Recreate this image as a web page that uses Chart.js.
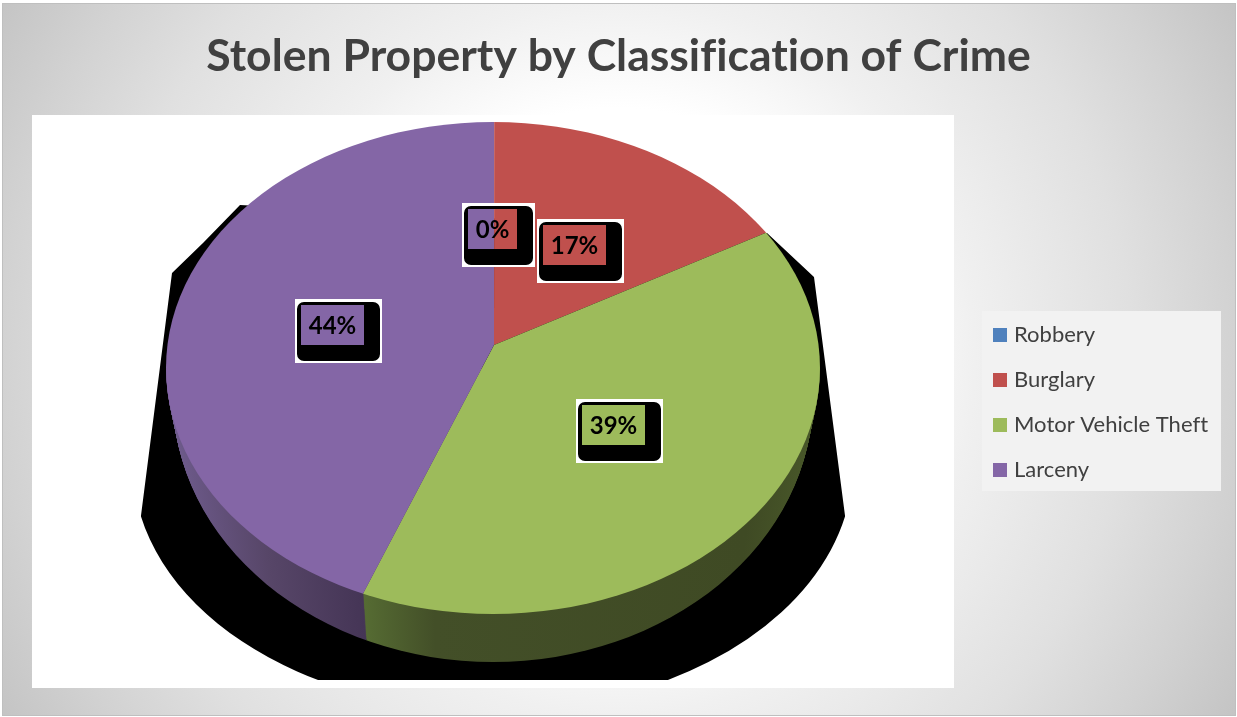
<!DOCTYPE html>
<html>
<head>
<meta charset="utf-8">
<title>Stolen Property by Classification of Crime</title>
<script src="https://cdn.jsdelivr.net/npm/chart.js@4"></script>
<style>
html, body { margin: 0; padding: 0; background: #fff; }
canvas { display: block; }
</style>
</head>
<body>
<canvas id="myChart" width="1237" height="717"></canvas>
<script>
var categories = ['Robbery', 'Burglary', 'Motor Vehicle Theft', 'Larceny'];
var crimeValues = [0.01, 17, 39, 44];
var sliceColors = ['#4F81BD', '#C0504D', '#9DBB5B', '#8466A6'];

var titleText = 'Stolen Property by Classification of Crime';
var fontName = 'Lato, "Open Sans", sans-serif';

// the pie is tilted: apex sits above the middle of the top ellipse
var pieX = 494, pieY = 345, pieR = 360, tilt = 0.752;
var faceX = 493;
var topFace = { cy: 368, rx: 327, ry: 246 };
var rimDepth = 47;
var bottomFace = { cy: 397, rx: 320, ry: 265 };

function paintBackground(ctx, w, h) {
    ctx.save();
    ctx.fillStyle = '#fff';
    ctx.fillRect(0, 0, w, h);
    var bg = ctx.createRadialGradient(618, 358, 0, 618, 358, 714);
    bg.addColorStop(0, '#ffffff');
    bg.addColorStop(0.35, '#ffffff');
    bg.addColorStop(0.5, '#f0f0f0');
    bg.addColorStop(0.72, '#e0e0e0');
    bg.addColorStop(0.865, '#d2d2d2');
    bg.addColorStop(1, '#c4c4c4');
    ctx.fillStyle = bg;
    ctx.fillRect(2, 3, w - 3, h - 4);
    ctx.strokeStyle = '#bfbfbf';
    ctx.lineWidth = 1;
    ctx.strokeRect(2.5, 3.5, w - 4, h - 5);
    // plot and legend panels
    ctx.fillStyle = '#fff';
    ctx.fillRect(32, 115, 922, 573);
    ctx.fillStyle = '#f2f2f2';
    ctx.fillRect(982, 311, 239, 180);
    ctx.restore();
}

function paintShadow(ctx) {
    ctx.save();
    ctx.beginPath();
    ctx.rect(32, 115, 922, 565);
    ctx.clip();
    ctx.fillStyle = '#000';
    ctx.beginPath();
    ctx.moveTo(240, 205);
    ctx.lineTo(203, 243);
    ctx.lineTo(172, 273);
    ctx.ellipse(493, 465, 360, 246, 0, Math.PI - 0.21, 0.21, true);
    ctx.lineTo(814, 277);
    ctx.lineTo(767, 233);
    ctx.closePath();
    ctx.fill();
    ctx.restore();
}

function drawSlices(ctx, arcs, fills) {
    arcs.forEach(function (arc, i) {
        var saved = arc.options;
        if (fills) arc.options = Object.assign({}, saved, { backgroundColor: fills[i] });
        arc.draw(ctx);
        arc.options = saved;
    });
}

function paintRim(ctx, arcs) {
    var purple = ctx.createLinearGradient(170, 0, 362, 0);
    purple.addColorStop(0, '#6e5b8c');
    purple.addColorStop(0.5, '#574668');
    purple.addColorStop(1, '#453556');
    var green = ctx.createLinearGradient(362, 0, 815, 0);
    green.addColorStop(0, '#566c33');
    green.addColorStop(0.16, '#434f28');
    green.addColorStop(0.85, '#3f4a24');
    green.addColorStop(1, '#485729');
    var fills = ['#2f4d70', '#733030', green, purple];
    for (var d = rimDepth; d > 0; d--) {
        var t = d / rimDepth;
        var cy = topFace.cy + (bottomFace.cy - topFace.cy) * t;
        var rx = topFace.rx + (bottomFace.rx - topFace.rx) * t;
        var ry = topFace.ry + (bottomFace.ry - topFace.ry) * t;
        ctx.save();
        ctx.beginPath();
        ctx.ellipse(faceX, cy, rx, ry, 0, 0, Math.PI);
        ctx.closePath();
        ctx.clip();
        ctx.translate(pieX, pieY + d);
        ctx.scale(rx / topFace.rx, tilt);
        ctx.translate(-pieX, -pieY);
        drawSlices(ctx, arcs, fills);
        ctx.restore();
    }
}

function paintTop(ctx, arcs) {
    ctx.save();
    ctx.beginPath();
    ctx.ellipse(faceX, topFace.cy, topFace.rx, topFace.ry, 0, 0, Math.PI * 2);
    ctx.clip();
    ctx.translate(pieX, pieY);
    ctx.scale(1, tilt);
    ctx.translate(-pieX, -pieY);
    drawSlices(ctx, arcs);
    ctx.restore();
}

function roundBox(ctx, x, y, w, h, r) {
    ctx.moveTo(x + r, y);
    ctx.arcTo(x + w, y, x + w, y + h, r);
    ctx.arcTo(x + w, y + h, x, y + h, r);
    ctx.arcTo(x, y + h, x, y, r);
    ctx.arcTo(x, y, x + w, y, r);
    ctx.closePath();
}

// white card with a black rounded plate, the hole lets the slice show through
function paintLabels(ctx, arcs) {
    var total = crimeValues.reduce(function (a, b) { return a + b; }, 0);
    ctx.save();
    ctx.font = 'bold 24px ' + fontName;
    ctx.textAlign = 'center';
    ctx.textBaseline = 'middle';
    arcs.forEach(function (arc, i) {
        var text = Math.round(crimeValues[i] / total * 100) + '%';
        var mid = (arc.startAngle + arc.endAngle) / 2;
        var r = arc.outerRadius * 0.45;
        var x = arc.x + Math.cos(mid) * r + 4;
        var y = arc.y + Math.sin(mid) * r * tilt * 0.97 + 8;
        var innerW = Math.round(ctx.measureText(text).width) + 15;
        var w = innerW + 24, h = 64;
        var left = Math.round(x - w / 2), top = Math.round(y - h / 2);
        ctx.fillStyle = '#fff';
        ctx.beginPath();
        ctx.rect(left, top, w, h);
        ctx.rect(left + 6, top + 6, innerW, 40);
        ctx.fill('evenodd');
        ctx.fillStyle = '#000';
        ctx.beginPath();
        roundBox(ctx, left + 2, top + 3, w - 4, h - 5, 7);
        ctx.rect(left + 6, top + 6, innerW, 40);
        ctx.fill('evenodd');
        ctx.fillText(text, left + 6 + innerW / 2, top + 27);
    });
    ctx.restore();
}

var stolenPiePlugin = {
    id: 'stolenPie',
    beforeDraw: function (chart) {
        // small spacing switches off the Lato ti ligature in the title
        chart.ctx.letterSpacing = '0.01px';
        paintBackground(chart.ctx, chart.width, chart.height);
    },
    afterLayout: function (chart) {
        // fix the pie and legend where the slide has them
        chart.chartArea = {
            left: pieX - pieR, right: pieX + pieR,
            top: pieY - pieR, bottom: pieY + pieR,
            width: pieR * 2, height: pieR * 2
        };
        var legend = chart.legend;
        var lh = legend.height;
        legend.left = 974;
        legend.right = legend.left + legend.width;
        legend.top = 301;
        legend.bottom = legend.top + lh;
    },
    beforeDatasetsDraw: function (chart) {
        var ctx = chart.ctx;
        var arcs = chart.getDatasetMeta(0).data;
        paintShadow(ctx);
        paintRim(ctx, arcs);
        paintTop(ctx, arcs);
        paintLabels(ctx, arcs);
        return false;
    }
};

var ctx = document.getElementById('myChart').getContext('2d');
var myChart = new Chart(ctx, {
    type: 'pie',
    data: {
        labels: categories,
        datasets: [{
            data: crimeValues,
            backgroundColor: sliceColors,
            borderWidth: 0
        }]
    },
    options: {
        responsive: false,
        animation: false,
        plugins: {
            tooltip: { enabled: false },
            title: {
                display: true,
                text: titleText,
                color: '#404040',
                font: { family: fontName, size: 44.5, weight: 'bold' },
                padding: { top: 30, bottom: 10 }
            },
            legend: {
                position: 'right',
                align: 'start',
                labels: {
                    font: { family: fontName, size: 22 },
                    color: '#404040',
                    boxWidth: 6,
                    boxHeight: 6,
                    padding: 23,
                    generateLabels: function () {
                        return categories.map(function (name, i) {
                            return {
                                text: name,
                                fillStyle: sliceColors[i],
                                strokeStyle: sliceColors[i],
                                lineWidth: 8,
                                fontColor: '#404040',
                                index: i
                            };
                        });
                    }
                }
            }
        }
    },
    plugins: [stolenPiePlugin]
});
</script>
</body>
</html>
